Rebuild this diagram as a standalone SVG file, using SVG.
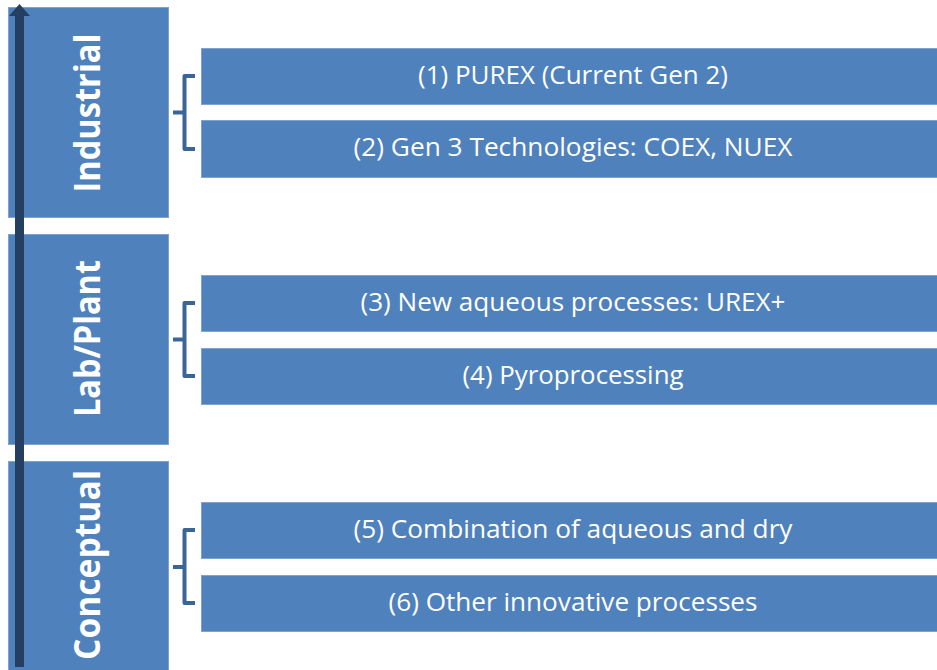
<svg xmlns="http://www.w3.org/2000/svg" width="937" height="670" viewBox="0 0 937 670">
  <style>
    .box { fill: #4F81BD; stroke: #7FA3D0; stroke-width: 1; }
    .stage { font-family: "Open Sans", "Liberation Sans", sans-serif; font-weight: bold; font-size: 36px; fill: #FFFFFF; }
    .item { font-family: "Open Sans", "Liberation Sans", sans-serif; font-size: 25px; fill: #FFFFFF; }
    .brace { fill: none; stroke: #3A6598; stroke-width: 4; stroke-linejoin: round; }
  </style>

  <!-- maturity stages -->
  <g id="stage-industrial">
    <rect class="box" x="8.5" y="7.5" width="160" height="210"/>
    <text class="stage" transform="translate(100,113) rotate(-90)" text-anchor="middle" textLength="159" lengthAdjust="spacingAndGlyphs">Industrial</text>
  </g>
  <g id="stage-lab">
    <rect class="box" x="8.5" y="234.5" width="160" height="210"/>
    <text class="stage" transform="translate(100,338.5) rotate(-90)" text-anchor="middle" textLength="157" lengthAdjust="spacingAndGlyphs">Lab/Plant</text>
  </g>
  <g id="stage-conceptual">
    <rect class="box" x="8.5" y="461.5" width="160" height="212"/>
    <text class="stage" transform="translate(100,565) rotate(-90)" text-anchor="middle" textLength="190" lengthAdjust="spacingAndGlyphs">Conceptual</text>
  </g>

  <!-- process boxes -->
  <g id="item-1">
    <rect class="box" x="201.5" y="48.5" width="740" height="56"/>
    <text class="item" x="573" y="84" text-anchor="middle" textLength="310" lengthAdjust="spacingAndGlyphs">(1) PUREX (Current Gen 2)</text>
  </g>
  <g id="item-2">
    <rect class="box" x="201.5" y="120.5" width="740" height="57"/>
    <text class="item" x="573" y="156" text-anchor="middle" textLength="439" lengthAdjust="spacingAndGlyphs">(2) Gen 3 Technologies: COEX, NUEX</text>
  </g>
  <g id="item-3">
    <rect class="box" x="201.5" y="275.5" width="740" height="56"/>
    <text class="item" x="573" y="311" text-anchor="middle" textLength="425" lengthAdjust="spacingAndGlyphs">(3) New aqueous processes: UREX+</text>
  </g>
  <g id="item-4">
    <rect class="box" x="201.5" y="348.5" width="740" height="56"/>
    <text class="item" x="573" y="384" text-anchor="middle" textLength="221" lengthAdjust="spacingAndGlyphs">(4) Pyroprocessing</text>
  </g>
  <g id="item-5">
    <rect class="box" x="201.5" y="502.5" width="740" height="56"/>
    <text class="item" x="573" y="538" text-anchor="middle" textLength="439" lengthAdjust="spacingAndGlyphs">(5) Combination of aqueous and dry</text>
  </g>
  <g id="item-6">
    <rect class="box" x="201.5" y="575.5" width="740" height="56"/>
    <text class="item" x="573" y="611" text-anchor="middle" textLength="369" lengthAdjust="spacingAndGlyphs">(6) Other innovative processes</text>
  </g>

  <!-- connectors: maturity arrow and grouping braces -->
  <g id="connectors">
    <rect x="15" y="15" width="9" height="652" fill="#243F60"/>
    <polygon points="19.5,4 9,16 30,16" fill="#243F60"/>
    <path class="brace" d="M195,76 H184.5 V149 H195 M173,112.5 H184.5"/>
    <path class="brace" d="M195,303 H184.5 V376 H195 M173,339.5 H184.5"/>
    <path class="brace" d="M195,530 H184.5 V603 H195 M173,567 H184.5"/>
  </g>
</svg>
